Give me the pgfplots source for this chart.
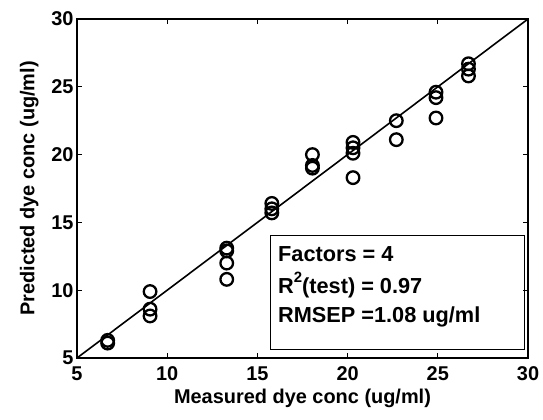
\documentclass[border=0pt]{standalone}
\usepackage{fontspec}
\setmainfont{Liberation Sans}
\usepackage{pgfplots}
\pgfplotsset{compat=1.18}
\begin{document}
\begin{tikzpicture}
\path[use as bounding box] (0,0) rectangle (543bp,420bp);
\begin{axis}[
  at={(77bp,62bp)}, anchor=south west,
  scale only axis, width=451bp, height=339bp,
  xmin=5, xmax=30, ymin=5, ymax=30,
  xtick={5,10,15,20,25,30}, ytick={5,10,15,20,25,30},
  tick align=inside, major tick length=5bp,
  axis line style={line width=1.6bp},
  every tick/.style={line width=1bp, black},
  tick label style={font=\fontsize{20}{22}\selectfont\bfseries},
  /pgf/number format/assume math mode=true,
  xticklabel style={anchor=base, yshift=-22bp},
  xlabel={Measured dye conc (ug/ml)},
  ylabel={Predicted dye conc (ug/ml)},
  label style={font=\fontsize{20}{22}\selectfont\bfseries},
  xlabel style={at={(axis description cs:0.5,-0.133)}, anchor=base},
  ylabel style={at={(axis description cs:-0.106,0.5)}, anchor=center},
  clip=false,
]
\addplot[black, line width=1.6bp, no marks] coordinates {(5,5) (30,30)};
\addplot[only marks, mark=o, mark size=6.3bp, black, mark options={line width=2.3bp}] coordinates {
(6.7,6.1) (6.7,6.3)
(9.05,9.9) (9.05,8.6) (9.05,8.1)
(13.3,13.1) (13.3,12.9) (13.3,12.0) (13.3,10.8)
(15.8,16.4) (15.8,16.0) (15.8,15.7)
(18.05,20.0) (18.05,19.2) (18.05,19.0)
(20.3,20.9) (20.3,20.5) (20.3,20.1) (20.3,18.3)
(22.7,22.5) (22.7,21.1)
(24.9,24.6) (24.9,24.2) (24.9,22.7)
(26.7,26.7) (26.7,26.3) (26.7,25.8)
};
\draw[black, line width=1bp] (axis cs:15.72,5.66) rectangle (axis cs:29.78,14.07);
\node[anchor=base west, inner sep=0pt, font=\fontsize{21.8}{23}\selectfont\bfseries] at (axis cs:16.14,12.15) {Factors = 4};
\node[anchor=base west, inner sep=0pt, font=\fontsize{21.8}{23}\selectfont\bfseries] at (axis cs:16.14,9.72) {R\raisebox{0.55em}{\fontsize{15}{16}\selectfont 2}(test) = 0.97};
\node[anchor=base west, inner sep=0pt, font=\fontsize{21.8}{23}\selectfont\bfseries] at (axis cs:16.14,7.65) {RMSEP =1.08 ug/ml};
\end{axis}
\end{tikzpicture}
\end{document}
